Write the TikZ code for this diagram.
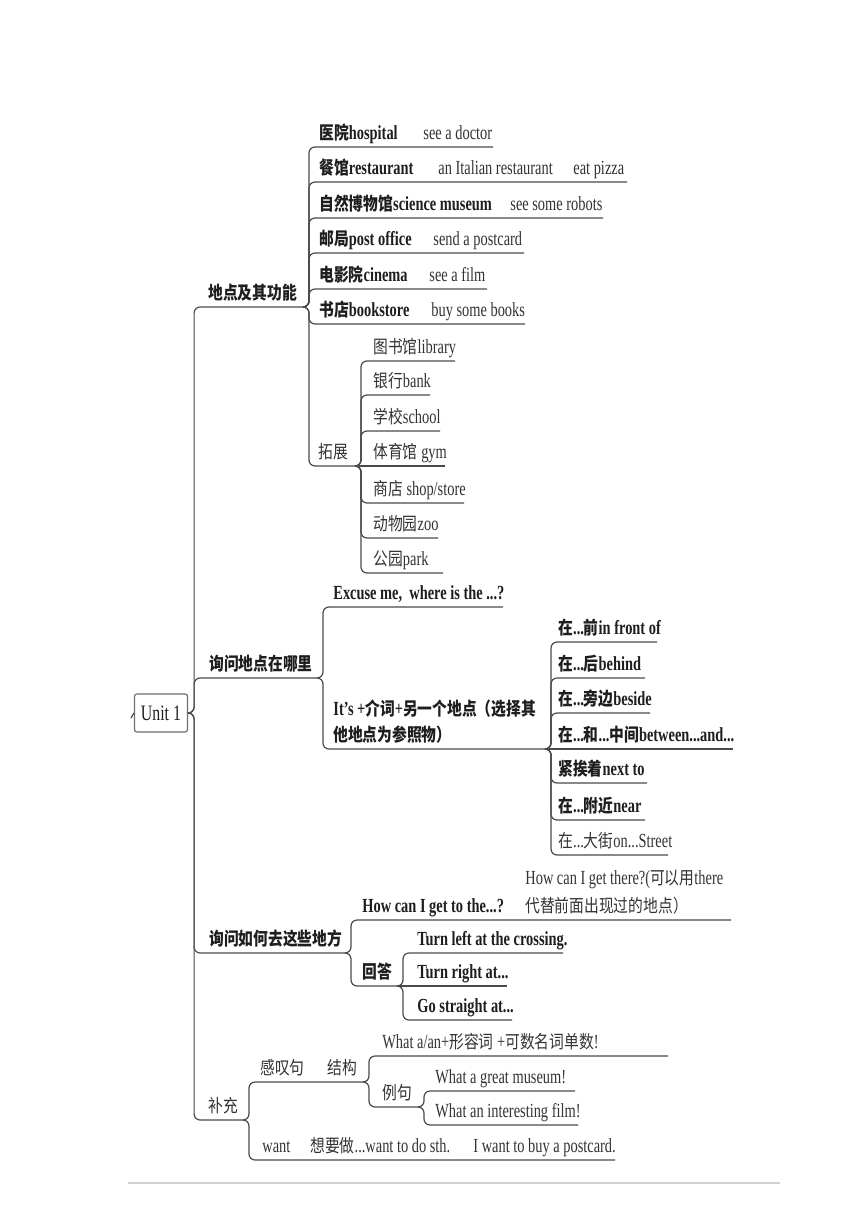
\documentclass[tikz,border=0pt]{standalone}
\usepackage{fontspec}
\setmainfont{Liberation Serif}[FakeStretch=0.72]
\newfontfamily\cjk{Noto Sans CJK SC}[FakeStretch=0.82]
\newcommand\zh[1]{{\cjk\fontsize{9}{13}\selectfont #1}}
\definecolor{ln}{HTML}{4A4A4A}
\definecolor{tk}{HTML}{1E1E1E}
\definecolor{tl}{HTML}{333333}
\begin{document}
\begin{tikzpicture}[x=0.5pt,y=-0.5pt,
  br/.style={draw=ln, line width=0.6pt, rounded corners=3pt},
  tx/.style={anchor=base west, inner sep=0pt},
  n/.style={tx, text=tl, font=\fontsize{10}{13}\selectfont},
  b/.style={tx, text=tk, font=\fontsize{10}{13}\selectfont\bfseries},
  unitbox/.style={draw=ln!80, line width=0.6pt, rounded corners=1.2pt, fill=white,
    minimum width=26.5pt, minimum height=19pt, inner sep=0pt, text=tk,
    font=\fontsize{11}{13}\selectfont}]
\useasboundingbox (0,0) rectangle (860,1216);
\fill[white] (0,0) rectangle (860,1216);

% ---------- root ----------
\node[unitbox] (unit) at (161,713) {Unit 1};
\coordinate (tick) at (131,718);
\draw[draw=ln, line width=0.6pt] (unit.west) -- (tick);

% ---------- level 1 ----------
\node[b] (place) at (208,299) {\zh{地点及其功能}};
\node[b] (where) at (209,670) {\zh{询问地点在哪里}};
\node[b] (how) at (209,945) {\zh{询问如何去这些地方}};
\node[n] (more) at (208,1112) {\zh{补充}};
\coordinate (placeR) at (303,307);
\coordinate (whereR) at (317,678);
\coordinate (howR) at (345,953);
\coordinate (moreR) at (243,1120);
\draw[br] (unit.east) -- ++(6,0) |- (placeR);
\draw[br] (unit.east) -- ++(6,0) |- (whereR);
\draw[br] (unit.east) -- ++(6,0) |- (howR);
\draw[br] (unit.east) -- ++(6,0) |- (moreR);

% ---------- places and functions ----------
\node[b] (hosp) at (319,139) {\zh{医院}hospital};
\node[n] (hospF) at (423,139) {see a doctor};
\node[b] (rest) at (319,174) {\zh{餐馆}restaurant};
\node[n] (restF) at (438,174) {an Italian restaurant};
\node[n] (restG) at (573,174) {eat pizza};
\node[b] (mus) at (319,210) {\zh{自然博物馆}science museum};
\node[n] (musF) at (510,210) {see some robots};
\node[b] (post) at (319,245) {\zh{邮局}post office};
\node[n] (postF) at (433,245) {send a postcard};
\node[b] (cin) at (319,281) {\zh{电影院}cinema};
\node[n] (cinF) at (429,281) {see a film};
\node[b] (book) at (319,316) {\zh{书店}bookstore};
\node[n] (bookF) at (431,316) {buy some books};
\node[n] (ext) at (318,458) {\zh{拓展}};
\coordinate (hospR) at (493,147);
\coordinate (restR) at (627,182);
\coordinate (musR) at (603,218);
\coordinate (postR) at (524,253);
\coordinate (cinR) at (487,289);
\coordinate (bookR) at (525,324);
\coordinate (extR) at (355,466);
\foreach \c in {hospR,restR,musR,postR,cinR,bookR,extR}
  \draw[br] (placeR) -- ++(6,0) |- (\c);

\node[n] (lib) at (373,353) {\zh{图书馆}library};
\node[n] (bank) at (373,387) {\zh{银行}bank};
\node[n] (school) at (373,423) {\zh{学校}school};
\node[n] (gym) at (373,458) {\zh{体育馆} gym};
\node[n] (shop) at (373,495) {\zh{商店} shop/store};
\node[n] (zoo) at (373,530) {\zh{动物园}zoo};
\node[n] (park) at (373,565) {\zh{公园}park};
\coordinate (libR) at (455,361);
\coordinate (bankR) at (430,395);
\coordinate (schoolR) at (440,431);
\coordinate (gymR) at (445,466);
\coordinate (shopR) at (464,503);
\coordinate (zooR) at (438,538);
\coordinate (parkR) at (443,573);
\foreach \c in {libR,bankR,schoolR,shopR,zooR,parkR}
  \draw[br] (extR) -- ++(6,0) |- (\c);
\draw[br] (extR) -- (gymR);

% ---------- asking where ----------
\node[b] (excuse) at (333,599) {Excuse me,\ \ where is the ...?};
\node[b] (its) at (333,715) {It's +\zh{介词}+\zh{另一个地点（选择其}};
\node[b] (its2) at (333,741) {\zh{他地点为参照物）}};
\coordinate (excuseR) at (503,607);
\coordinate (itsR) at (545,749);
\draw[br] (whereR) -- ++(6,0) |- (excuseR);
\draw[br] (whereR) -- ++(6,0) |- (itsR);

\node[b] (front) at (558,634) {\zh{在}...\zh{前}in front of};
\node[b] (behind) at (558,670) {\zh{在}...\zh{后}behind};
\node[b] (beside) at (558,705) {\zh{在}...\zh{旁边}beside};
\node[b] (between) at (558,741) {\zh{在}...\zh{和}...\zh{中间}between...and...};
\node[b] (next) at (558,775) {\zh{紧挨着}next to};
\node[b] (near) at (558,812) {\zh{在}...\zh{附近}near};
\node[n] (street) at (558,847) {\zh{在}...\zh{大街}on...Street};
\coordinate (frontR) at (657,642);
\coordinate (behindR) at (645,678);
\coordinate (besideR) at (650,713);
\coordinate (betweenR) at (733,749);
\coordinate (nextR) at (647,783);
\coordinate (nearR) at (645,820);
\coordinate (streetR) at (668,855);
\foreach \c in {frontR,behindR,besideR,nextR,nearR,streetR}
  \draw[br] (itsR) -- ++(6,0) |- (\c);
\draw[br] (itsR) -- (betweenR);

% ---------- asking the way ----------
\node[b] (getto) at (362,912) {How can I get to the...?};
\node[n] (there) at (525,884) {How can I get there?(\zh{可以用}there};
\node[n] (there2) at (525,912) {\zh{代替前面出现过的地点）}};
\node[b] (answer) at (362,978) {\zh{回答}};
\coordinate (gettoR) at (731,920);
\coordinate (answerR) at (397,986);
\draw[br] (howR) -- ++(6,0) |- (gettoR);
\draw[br] (howR) -- ++(6,0) |- (answerR);

\node[b] (left) at (417,945) {Turn left at the crossing.};
\node[b] (right) at (417,978) {Turn right at...};
\node[b] (straight) at (417,1012) {Go straight at...};
\coordinate (leftR) at (563,953);
\coordinate (rightR) at (507,986);
\coordinate (straightR) at (512,1020);
\draw[br] (answerR) -- ++(6,0) |- (leftR);
\draw[br] (answerR) -- (rightR);
\draw[br] (answerR) -- ++(6,0) |- (straightR);

% ---------- supplement ----------
\node[n] (excl) at (260,1074) {\zh{感叹句}};
\node[n] (struct) at (327,1074) {\zh{结构}};
\node[n] (want) at (262,1152) {want};
\node[n] (wantM) at (310,1152) {\zh{想要做}...want to do sth.};
\node[n] (wantE) at (473,1152) {I want to buy a postcard.};
\coordinate (structR) at (363,1082);
\coordinate (wantR) at (615,1160);
\draw[br] (moreR) -- ++(6,0) |- (structR);
\draw[br] (moreR) -- ++(6,0) |- (wantR);

\node[n] (form) at (382,1048) {What a/an+\zh{形容词} +\zh{可数名词单数}!};
\node[n] (ex) at (382,1099) {\zh{例句}};
\coordinate (formR) at (668,1056);
\coordinate (exR) at (418,1107);
\draw[br] (structR) -- ++(6,0) |- (formR);
\draw[br] (structR) -- ++(6,0) |- (exR);

\node[n] (ex1) at (435,1083) {What a great museum!};
\node[n] (ex2) at (435,1117) {What an interesting film!};
\coordinate (ex1R) at (575,1091);
\coordinate (ex2R) at (578,1125);
\draw[br] (exR) -- ++(6,0) |- (ex1R);
\draw[br] (exR) -- ++(6,0) |- (ex2R);

% ---------- page rule ----------
\coordinate (ruleL) at (128,1183);
\coordinate (ruleR) at (780,1183);
\draw[draw=black!18, line width=0.8pt] (ruleL) -- (ruleR);
\end{tikzpicture}
\end{document}
